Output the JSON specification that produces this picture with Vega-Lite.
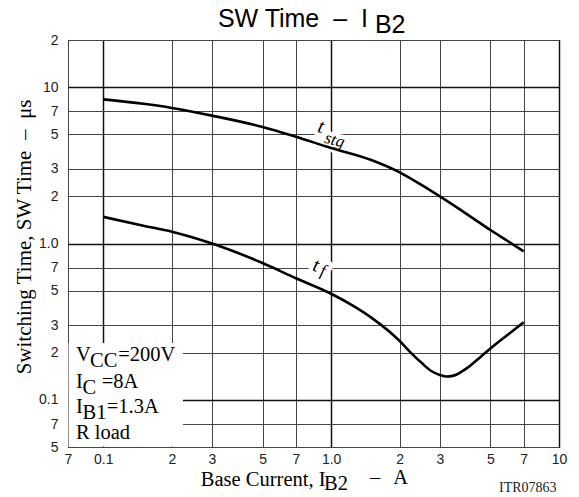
{
  "$schema": "https://vega.github.io/schema/vega-lite/v6.json",
  "width": 491,
  "height": 407,
  "autosize": {"type": "none"},
  "padding": {"left": 68, "top": 40, "right": 20, "bottom": 50},
  "background": "white",
  "config": {"view": {"stroke": "#222", "strokeWidth": 1}},
  "datasets": {
    "curves": [
      {"curve": "tstg", "x": 0.1, "y": 8.34},
      {"curve": "tstg", "x": 0.15, "y": 7.82},
      {"curve": "tstg", "x": 0.2, "y": 7.36},
      {"curve": "tstg", "x": 0.3, "y": 6.57},
      {"curve": "tstg", "x": 0.5, "y": 5.56},
      {"curve": "tstg", "x": 0.7, "y": 4.81},
      {"curve": "tstg", "x": 1, "y": 4.08},
      {"curve": "tstg", "x": 1.5, "y": 3.42},
      {"curve": "tstg", "x": 2, "y": 2.85},
      {"curve": "tstg", "x": 2.5, "y": 2.36},
      {"curve": "tstg", "x": 3, "y": 2.0},
      {"curve": "tstg", "x": 4, "y": 1.52},
      {"curve": "tstg", "x": 5, "y": 1.22},
      {"curve": "tstg", "x": 6, "y": 1.03},
      {"curve": "tstg", "x": 7, "y": 0.89},
      {"curve": "tf", "x": 0.1, "y": 1.48},
      {"curve": "tf", "x": 0.15, "y": 1.3},
      {"curve": "tf", "x": 0.2, "y": 1.19},
      {"curve": "tf", "x": 0.3, "y": 1.0},
      {"curve": "tf", "x": 0.5, "y": 0.75},
      {"curve": "tf", "x": 0.7, "y": 0.6},
      {"curve": "tf", "x": 1, "y": 0.477},
      {"curve": "tf", "x": 1.25, "y": 0.399},
      {"curve": "tf", "x": 1.5, "y": 0.336},
      {"curve": "tf", "x": 2, "y": 0.238},
      {"curve": "tf", "x": 2.24, "y": 0.2},
      {"curve": "tf", "x": 2.5, "y": 0.172},
      {"curve": "tf", "x": 2.75, "y": 0.153},
      {"curve": "tf", "x": 3, "y": 0.1445},
      {"curve": "tf", "x": 3.2, "y": 0.141},
      {"curve": "tf", "x": 3.45, "y": 0.143},
      {"curve": "tf", "x": 3.75, "y": 0.152},
      {"curve": "tf", "x": 4, "y": 0.162},
      {"curve": "tf", "x": 4.5, "y": 0.187},
      {"curve": "tf", "x": 5, "y": 0.213},
      {"curve": "tf", "x": 6, "y": 0.263},
      {"curve": "tf", "x": 7, "y": 0.314}
    ],
    "lbl_main": [
      {"text": "t", "x": 0.8636, "y": 5.18},
      {"text": "t", "x": 0.822, "y": 0.673}
    ],
    "lbl_sub": [
      {"text": "stg", "x": 0.9275, "y": 4.426},
      {"text": "f", "x": 0.8875, "y": 0.626}
    ],
    "box": [
      {"x": 0.07042, "x2": 0.2237, "y": 0.05044, "y2": 0.2311}
    ],
    "note_main": [
      {"text": "V", "x": 0.07591, "y": 0.1781},
      {"text": "=200V", "x": 0.1163, "y": 0.1781},
      {"text": "I", "x": 0.07591, "y": 0.1187},
      {"text": "=8A", "x": 0.0984, "y": 0.1187},
      {"text": "I", "x": 0.07591, "y": 0.08211},
      {"text": "=1.3A", "x": 0.1035, "y": 0.08211},
      {"text": "R load", "x": 0.07591, "y": 0.056},
      {"text": "\u2013", "x": 1.48, "y": 0.02888},
      {"text": "A", "x": 1.873, "y": 0.02888}
    ],
    "note_sub": [
      {"text": "CC", "x": 0.0874, "y": 0.1781},
      {"text": "C", "x": 0.08104, "y": 0.1187},
      {"text": "B1", "x": 0.08104, "y": 0.08211},
      {"text": "B2", "x": 0.93, "y": 0.02888}
    ],
    "title_main": [
      {"text": "SW Time \u00a0\u2013\u00a0 I", "x": 1.45, "y": 24.11}
    ],
    "title_sub": [
      {"text": "B2", "x": 1.556, "y": 22.08}
    ],
    "code": [
      {"text": "ITR07863", "x": 9.759, "y": 0.02589}
    ]
  },
  "encoding": {
    "x": {
      "field": "x", "type": "quantitative",
      "scale": {"type": "log", "domain": [0.07, 10], "nice": false, "zero": false},
      "axis": {
        "title": "Base Current, I",
        "values": [0.07, 0.1, 0.2, 0.3, 0.5, 0.7, 1, 2, 3, 5, 7, 10],
        "labelExpr": "datum.value < 0.09 ? '7' : datum.value < 0.15 ? '0.1' : datum.value < 0.95 ? '' + round(datum.value * 10) : datum.value < 1.5 ? '1.0' : '' + round(datum.value)",
        "labelOverlap": false, "labelFlush": false,
        "labelFont": "Liberation Sans", "labelFontSize": 14, "labelColor": "#222", "labelPadding": 5,
        "ticks": false, "domain": false, "grid": true,
        "gridColor": {"condition": {"test": "datum.value == 0.1 || datum.value == 1 || datum.value == 10", "value": "#111"}, "value": "#444"},
        "gridWidth": {"condition": {"test": "datum.value == 0.1 || datum.value == 1 || datum.value == 10", "value": 1.5}, "value": 1},
        "titleFont": "Liberation Serif", "titleFontSize": 20.5, "titleFontWeight": "normal", "titleColor": "black",
        "titleX": 257, "titleY": 38, "titleAlign": "right", "titleBaseline": "alphabetic"
      }
    },
    "y": {
      "field": "y", "type": "quantitative",
      "scale": {"type": "log", "domain": [0.05, 20], "nice": false, "zero": false},
      "axis": {
        "title": "Switching Time, SW Time \u00a0\u2013\u00a0 \u03bcs",
        "values": [0.05, 0.07, 0.1, 0.2, 0.3, 0.5, 0.7, 1, 2, 3, 5, 7, 10, 20],
        "labelExpr": "datum.value < 0.095 ? '' + round(datum.value * 100) : datum.value < 0.15 ? '0.1' : datum.value < 0.95 ? '' + round(datum.value * 10) : datum.value < 1.5 ? '1.0' : datum.value < 15 ? '' + round(datum.value) : '2'",
        "labelOverlap": false, "labelFlush": false,
        "labelFont": "Liberation Sans", "labelFontSize": 14, "labelColor": "#222", "labelPadding": 10,
        "ticks": false, "domain": false, "grid": true,
        "gridColor": {"condition": {"test": "datum.value == 0.1 || datum.value == 1 || datum.value == 10", "value": "#111"}, "value": "#444"},
        "gridWidth": {"condition": {"test": "datum.value == 0.1 || datum.value == 1 || datum.value == 10", "value": 1.5}, "value": 1},
        "titleFont": "Liberation Serif", "titleFontSize": 21, "titleFontWeight": "normal", "titleColor": "black",
        "titleX": -38, "titleY": 196.5, "titleAngle": 270, "titleAlign": "center", "titleBaseline": "alphabetic"
      }
    }
  },
  "layer": [
    {
      "data": {"name": "box"},
      "mark": {"type": "rect", "fill": "white", "strokeWidth": 0},
      "encoding": {"x2": {"field": "x2"}, "y2": {"field": "y2"}}
    },
    {
      "data": {"name": "lbl_main"},
      "mark": {"type": "text", "font": "Liberation Serif", "fontStyle": "italic", "fontSize": 20, "angle": 15, "align": "left", "baseline": "alphabetic", "fill": "white", "stroke": "white", "strokeWidth": 9, "strokeJoin": "round"},
      "encoding": {"text": {"field": "text"}}
    },
    {
      "data": {"name": "lbl_sub"},
      "mark": {"type": "text", "font": "Liberation Serif", "fontStyle": "italic", "fontSize": 17, "angle": 15, "align": "left", "baseline": "alphabetic", "fill": "white", "stroke": "white", "strokeWidth": 9, "strokeJoin": "round"},
      "encoding": {"text": {"field": "text"}}
    },
    {
      "data": {"name": "curves"},
      "mark": {"type": "line", "color": "black", "strokeWidth": 2.6, "interpolate": "monotone"},
      "encoding": {"detail": {"field": "curve"}}
    },
    {
      "data": {"name": "lbl_main"},
      "mark": {"type": "text", "font": "Liberation Serif", "fontStyle": "italic", "fontSize": 20, "angle": 15, "align": "left", "baseline": "alphabetic", "color": "black"},
      "encoding": {"text": {"field": "text"}}
    },
    {
      "data": {"name": "lbl_sub"},
      "mark": {"type": "text", "font": "Liberation Serif", "fontStyle": "italic", "fontSize": 17, "angle": 15, "align": "left", "baseline": "alphabetic", "color": "black"},
      "encoding": {"text": {"field": "text"}}
    },
    {
      "data": {"name": "note_main"},
      "mark": {"type": "text", "font": "Liberation Serif", "fontSize": 20.5, "align": "left", "baseline": "alphabetic", "color": "black"},
      "encoding": {"text": {"field": "text"}}
    },
    {
      "data": {"name": "note_sub"},
      "mark": {"type": "text", "font": "Liberation Serif", "fontSize": 20.5, "align": "left", "baseline": "alphabetic", "dy": 6, "color": "black"},
      "encoding": {"text": {"field": "text"}}
    },
    {
      "data": {"name": "title_main"},
      "mark": {"type": "text", "font": "Liberation Sans", "fontSize": 25, "align": "right", "baseline": "alphabetic", "color": "black"},
      "encoding": {"text": {"field": "text"}}
    },
    {
      "data": {"name": "title_sub"},
      "mark": {"type": "text", "font": "Liberation Sans", "fontSize": 25, "align": "left", "baseline": "alphabetic", "color": "black"},
      "encoding": {"text": {"field": "text"}}
    },
    {
      "data": {"name": "code"},
      "mark": {"type": "text", "font": "Liberation Serif", "fontSize": 14, "align": "right", "baseline": "alphabetic", "color": "#222"},
      "encoding": {"text": {"field": "text"}}
    }
  ]
}
